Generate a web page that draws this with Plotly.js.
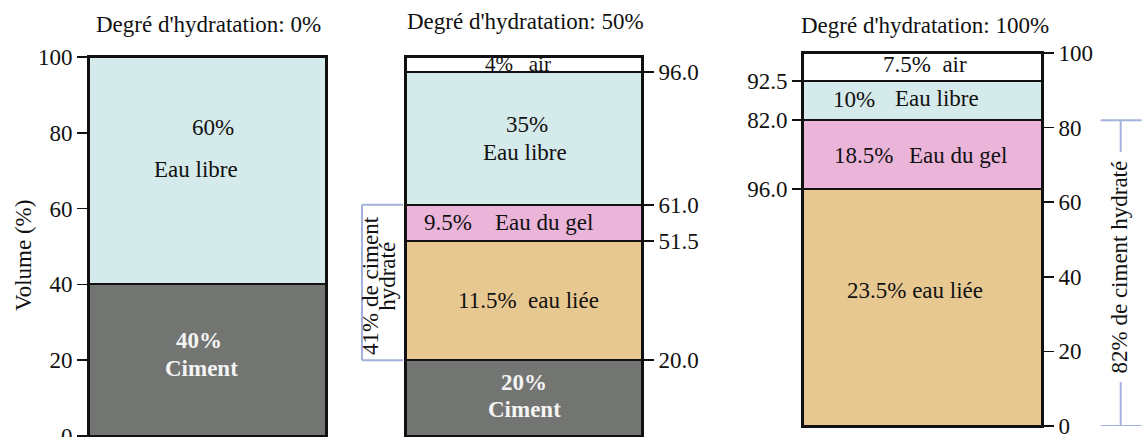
<!DOCTYPE html>
<html>
<head>
<meta charset="utf-8">
<script src="https://cdn.plot.ly/plotly-3.0.1.min.js"></script>
<style>html,body{margin:0;padding:0;background:#fff;}#chart{width:1142px;height:437px;}</style>
</head>
<body>
<div id="chart"></div>
<script>
// ---- data ----
const components = ['Ciment', 'Eau liée', 'Eau du gel', 'Eau libre', 'Air'];
const volume0 = [40, 0, 0, 60, 0];
const volume50 = [20, 31.5, 9.5, 35, 4];
const volume100 = [0, 63.5, 18.5, 10.5, 7.5];
const panelTitles = ["Degré d'hydratation: 0%", "Degré d'hydratation: 50%", "Degré d'hydratation: 100%"];
const mainTicks = [0, 20, 40, 60, 80, 100];
const ticks50 = [20, 51.5, 61, 96];
const ticks50Text = ['20.0', '51.5', '61.0', '96.0'];
const ticks100Left = [63.5, 82, 92.5];
const ticks100LeftText = ['96.0', '82.0', '92.5'];
const yTitle = 'Volume (%)';
const bracket50Text = ['41% de ciment', 'hydraté'];
const bracket100Text = '82% de ciment hydraté';

// ---- style ----
const colors = ['#737573', '#e8c891', '#ebb4d9', '#d5eaea', '#ffffff'];
const FONT = '"Liberation Serif", "Times New Roman", Times, serif';
const FS = 23;
const W = 1142, H = 437;
const px = v => v / W;
const py = v => 1 - v / H;

function barTraces(vals, xa, ya) {
  const out = [];
  vals.forEach((v, i) => {
    if (v <= 0) return;
    out.push({
      type: 'bar', x: [0], y: [v], width: 1, name: components[i],
      xaxis: xa, yaxis: ya, showlegend: false, hoverinfo: 'name+y',
      marker: {color: colors[i], line: {color: '#111', width: 2}}
    });
  });
  return out;
}

const traces = [
  ...barTraces(volume0, 'x', 'y'),
  ...barTraces(volume50, 'x2', 'y2'),
  ...barTraces(volume100, 'x3', 'y3'),
  {type: 'scatter', mode: 'markers', x: [], y: [], xaxis: 'x4', yaxis: 'y4', showlegend: false, hoverinfo: 'skip'}
];

const tickFont = {family: FONT, size: FS, color: '#111'};
function xAx(d, anchor) {
  return {domain: d, anchor: anchor, range: [-0.5, 0.5], showticklabels: false, ticks: '', showgrid: false,
    zeroline: false, showline: true, mirror: true, linecolor: '#111', linewidth: 2, fixedrange: true};
}
function yAx(extra) {
  return Object.assign({range: [0, 100], showgrid: false, zeroline: false, showline: true, mirror: true,
    linecolor: '#111', linewidth: 2, ticks: 'outside', ticklen: 10, tickwidth: 1.5, tickcolor: '#111',
    tickfont: tickFont, fixedrange: true, ticklabeloverflow: 'allow'}, extra);
}

const dom12 = [py(436), py(57)];
const dom3 = [py(426), py(53)];

const ann = [];
function txt(text, x, y, xref, yref, opt) {
  ann.push(Object.assign({text: text, x: x, y: y, xref: xref, yref: yref, showarrow: false,
    xanchor: 'center', yanchor: 'middle', font: {family: FONT, size: FS, color: '#111'}}, opt || {}));
}
const white = {font: {family: FONT, size: FS, color: '#f4f4f4'}};

// titles
txt(panelTitles[0], px(208), py(24), 'paper', 'paper');
txt(panelTitles[1], px(525), py(22), 'paper', 'paper');
txt(panelTitles[2], px(925), py(25), 'paper', 'paper');
txt(yTitle, px(23), py(256), 'paper', 'paper', {textangle: -90});

// panel 1 labels
txt('60%', 0.023, 81.3, 'x', 'y');
txt('Eau libre', -0.05, 70.2, 'x', 'y');
txt('<b>40%</b>', -0.036, 25.3, 'x', 'y', white);
txt('<b>Ciment</b>', -0.024, 17.9, 'x', 'y', white);

// panel 2 labels
txt('4%&nbsp;&nbsp; air', -0.024, 98.1, 'x2', 'y2', {font: {family: FONT, size: 21, color: '#111'}});
txt('35%', 0.014, 82.1, 'x2', 'y2');
txt('Eau libre', 0.006, 74.7, 'x2', 'y2');
txt('9.5%', -0.322, 56.25, 'x2', 'y2');
txt('Eau du gel', 0.086, 56.25, 'x2', 'y2');
txt('11.5%&nbsp; eau liée', 0.018, 35.75, 'x2', 'y2');
txt('<b>20%</b>', 0.001, 14.0, 'x2', 'y2', white);
txt('<b>Ciment</b>', 0.001, 7.1, 'x2', 'y2', white);

// panel 3 labels
txt('7.5%&nbsp; air', 0.012, 96.8, 'x3', 'y3');
txt('10%', -0.285, 87.6, 'x3', 'y3');
txt('Eau libre', 0.062, 87.9, 'x3', 'y3');
txt('18.5%', -0.248, 72.4, 'x3', 'y3');
txt('Eau du gel', 0.15, 72.4, 'x3', 'y3');
txt('23.5% eau liée', -0.03, 36.2, 'x3', 'y3');

// bracket texts
txt(bracket50Text[0], px(371), 39.6, 'paper', 'y2', {textangle: -90});
txt(bracket50Text[1], px(388), 42.0, 'paper', 'y2', {textangle: -90});
txt(bracket100Text, px(1119), 42.5, 'paper', 'y3', {textangle: -90, bgcolor: '#ffffff', borderpad: 8});

const bc = {color: '#a3b2dc', width: 2};
const shapes = [
  {type: 'line', xref: 'paper', yref: 'y2', x0: px(362), x1: px(362), y0: 20, y1: 61, line: bc, layer: 'below'},
  {type: 'line', xref: 'paper', yref: 'y2', x0: px(362), x1: px(403), y0: 61, y1: 61, line: bc, layer: 'below'},
  {type: 'line', xref: 'paper', yref: 'y2', x0: px(362), x1: px(403), y0: 20, y1: 20, line: bc, layer: 'below'},
  {type: 'line', xref: 'paper', yref: 'y3', x0: px(1120.7), x1: px(1120.7), y0: 0, y1: 82, line: bc, layer: 'below'},
  {type: 'line', xref: 'paper', yref: 'y3', x0: px(1100.7), x1: px(1141.7), y0: 82, y1: 82, line: bc, layer: 'below'},
  {type: 'line', xref: 'paper', yref: 'y3', x0: px(1100.7), x1: px(1141.7), y0: 0, y1: 0, line: bc, layer: 'below'}
];

const layout = {
  width: W, height: H,
  margin: {l: 0, r: 0, t: 0, b: 0},
  paper_bgcolor: '#ffffff', plot_bgcolor: 'rgba(0,0,0,0)',
  barmode: 'stack', showlegend: false,
  font: {family: FONT, size: FS, color: '#111'},
  xaxis: xAx([px(89), px(326)], 'y'),
  xaxis2: xAx([px(406), px(642)], 'y2'),
  xaxis3: xAx([px(803), px(1042)], 'y3'),
  xaxis4: {domain: [px(803), px(1042)], range: [-0.5, 0.5], anchor: 'y4', visible: false, fixedrange: true},
  yaxis: yAx({domain: dom12, anchor: 'x', side: 'left', tickvals: mainTicks}),
  yaxis2: yAx({domain: dom12, anchor: 'x2', side: 'right', tickvals: ticks50, ticktext: ticks50Text}),
  yaxis3: yAx({domain: dom3, anchor: 'x3', side: 'right', tickvals: mainTicks}),
  yaxis4: yAx({domain: dom3, anchor: 'x4', side: 'left', tickvals: ticks100Left, ticktext: ticks100LeftText, showline: false, mirror: false}),
  annotations: ann,
  shapes: shapes
};

Plotly.newPlot('chart', traces, layout, {displayModeBar: false, staticPlot: true});
</script>
</body>
</html>
